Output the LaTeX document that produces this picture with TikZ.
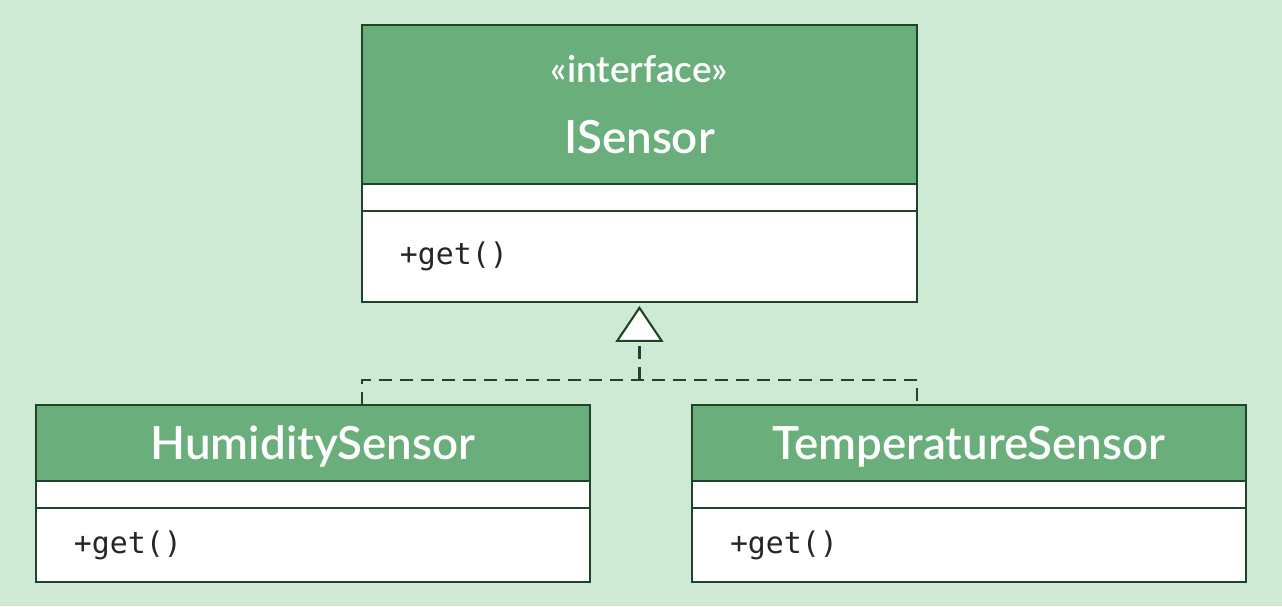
\documentclass[tikz,border=0pt]{standalone}
\usepackage{fontspec}
\setmainfont{Lato}[BoldFont=Lato Semibold]
\setmonofont{DejaVu Sans Mono}
\usetikzlibrary{positioning}
\usetikzlibrary{arrows.meta}

\definecolor{bggreen}{RGB}{206,234,213}
\definecolor{headgreen}{RGB}{106,175,123}
\definecolor{linegreen}{RGB}{31,68,40}

\begin{document}
\begin{tikzpicture}[x=0.02cm,y=-0.02cm,
  box/.style={draw=linegreen,line width=1.3pt,inner sep=0pt,outer sep=0pt},
  head/.style={box,fill=headgreen,text=white,text depth=0pt,font=\bfseries\fontsize{26}{40}\selectfont},
  blank/.style={box,fill=white,minimum height=0.54cm},
  meth/.style={box,fill=white,text=black!85,font=\ttfamily\fontsize{17}{20}\selectfont,
    inner xsep=0.76cm,align=left},
  realize/.style={linegreen,line width=1.2pt,dash pattern=on 0.26cm off 0.16cm}]
 \fill[bggreen](0,0) rectangle (1282,606);
 \useasboundingbox (0,0) rectangle (1282,606);

 \node[head,anchor=north west,minimum width=11.1cm,minimum height=3.18cm,align=center] (isensor) at (362,25)
  {{\fontsize{21}{40}\selectfont «interface»}\\ISensor};
 \node[blank,minimum width=11.1cm,below=0pt of isensor] (isensorA) {};
 \node[meth,text width=9.58cm,minimum height=1.82cm,below=0pt of isensorA] (isensorM) {+get()};

 \node[head,anchor=north west,minimum width=11.08cm,minimum height=1.52cm] (humid) at (36,405) {HumiditySensor};
 \node[blank,minimum width=11.08cm,below=0pt of humid] (humidA) {};
 \node[meth,text width=9.56cm,minimum height=1.48cm,below=0pt of humidA] (humidM) {+get()};

 \node[head,anchor=north west,minimum width=11.08cm,minimum height=1.52cm] (temp) at (692,405) {TemperatureSensor};
 \node[blank,minimum width=11.08cm,below=0pt of temp] (tempA) {};
 \node[meth,text width=9.56cm,minimum height=1.48cm,below=0pt of tempA] (tempM) {+get()};

 \coordinate[below=1.56cm of isensorM.south] (join);
 \draw[realize](isensor.west |- humid.north) |- (join) -| (isensor.east |- temp.north);
 \draw[realize,-{Triangle[open,length=0.72cm,width=0.96cm,fill=white]},shorten >=0.08cm](join) -- (isensorM.south);
\end{tikzpicture}
\end{document}
